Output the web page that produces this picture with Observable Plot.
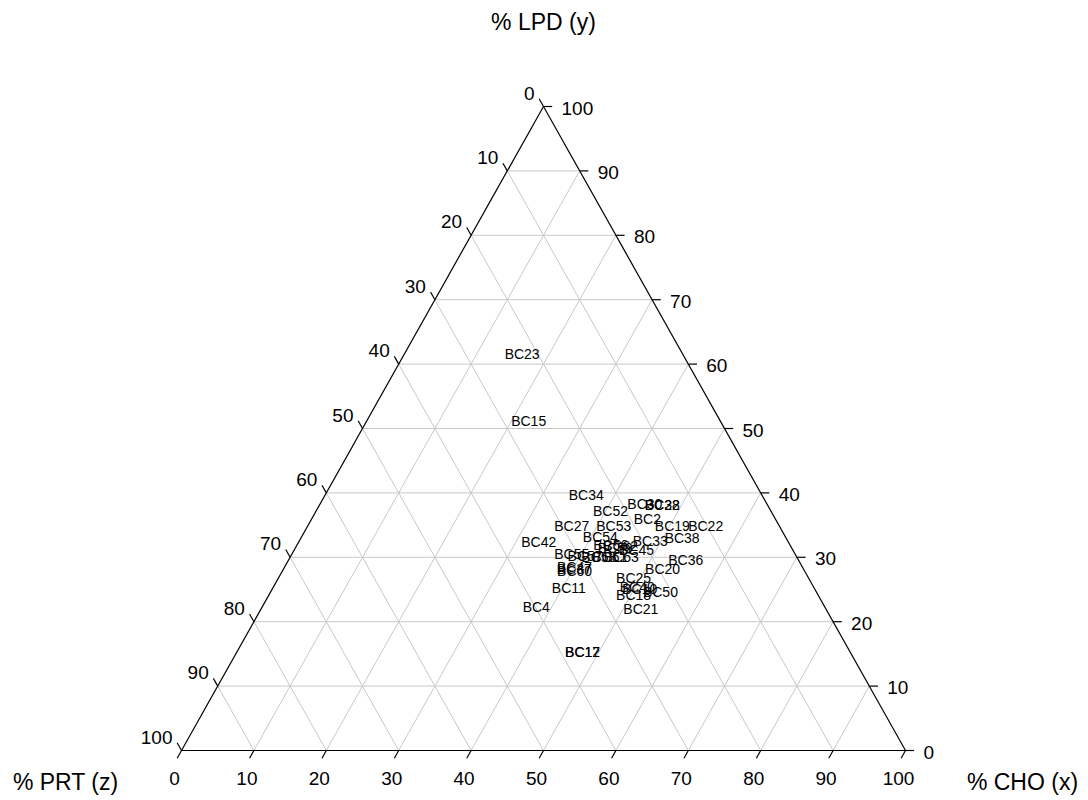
<!DOCTYPE html>
<html>
<head>
<meta charset="utf-8">
<script src="https://cdn.jsdelivr.net/npm/d3@7"></script>
<script src="https://cdn.jsdelivr.net/npm/@observablehq/plot@0.6"></script>
<style>
  html, body { margin: 0; padding: 0; background: #fff; }
  #chart svg { display: block; }
</style>
</head>
<body>
<div id="chart"></div>
<script>
// Sample labels and their ternary composition (% CHO = x, % LPD = y, % PRT = 100 - x - y)
const names = ["BC23","BC15","BC34","BC52","BC30","BC28","BC32","BC2","BC19","BC22","BC27","BC53","BC38","BC54","BC33","BC42","BC45","BC56","BC59","BC62","BC55","BC57","BC58","BC61","BC63","BC47","BC37","BC60","BC36","BC20","BC25","BC11","BC40","BC10","BC18","BC50","BC4","BC21","BC12","BC17"];
const cho   = [16.3, 22.4, 36.1, 40.7, 44.9, 47.4, 47.4, 46.4, 50.4, 55.0, 36.5, 42.3, 52.7, 41.3, 48.5, 33.2, 47.3, 43.4, 44.2, 44.8, 38.7, 40.7, 42.7, 44.2, 45.8, 40.1, 40.2, 40.4, 54.9, 52.4, 49.1, 40.9, 50.3, 50.8, 50.4, 53.9, 37.9, 52.5, 47.8, 47.8];
const lpd   = [61.5, 51.1, 39.6, 37.1, 38.2, 38.0, 38.0, 35.9, 34.8, 34.8, 34.8, 34.8, 32.9, 33.1, 32.5, 32.3, 31.1, 31.8, 31.4, 31.7, 30.4, 30.1, 29.9, 29.9, 29.9, 28.4, 28.1, 27.8, 29.5, 28.1, 26.7, 25.2, 25.3, 25.0, 24.1, 24.5, 22.2, 21.9, 15.2, 15.2];

const tickValues = [0, 10, 20, 30, 40, 50, 60, 70, 80, 90, 100];
const gridValues = [10, 20, 30, 40, 50, 60, 70, 80, 90];
const axisTitles = ["% CHO (x)", "% LPD (y)", "% PRT (z)"];

// ternary (cho, lpd) -> cartesian
const tx = (c, l) => c + l / 2;
const ty = (c, l) => l;

const points = names.map((n, i) => ({name: n, x: tx(cho[i], lpd[i]), y: ty(cho[i], lpd[i])}));

const grid = [];
for (const k of gridValues) {
  grid.push({x1: tx(0, k), y1: k, x2: tx(100 - k, k), y2: k});            // LPD = k
  grid.push({x1: tx(k, 0), y1: 0, x2: tx(k, 100 - k), y2: 100 - k});      // CHO = k
  grid.push({x1: tx(100 - k, 0), y1: 0, x2: tx(0, 100 - k), y2: 100 - k}); // PRT = k
}
const edges = [
  {x1: tx(0, 0), y1: 0, x2: tx(100, 0), y2: 0},
  {x1: tx(100, 0), y1: 0, x2: tx(0, 100), y2: 100},
  {x1: tx(0, 100), y1: 100, x2: tx(0, 0), y2: 0}
];
const t = 1.2;
const ticks = [];
for (const k of tickValues) {
  ticks.push({x1: tx(k, 0), y1: 0, x2: tx(k, -t), y2: -t});
  ticks.push({x1: tx(100 - k, k), y1: k, x2: tx(100 - k, k) + t, y2: k});
  ticks.push({x1: tx(0, 100 - k), y1: 100 - k, x2: tx(0, 100 - k) - t / 2, y2: 100 - k + t});
}
const choLabels = tickValues.map(k => ({x: tx(k, 0), y: 0, text: String(k)}));
const lpdLabels = tickValues.map(k => ({x: tx(100 - k, k), y: k, text: String(k)}));
const prtLabels = tickValues.map(k => ({x: tx(0, 100 - k), y: 100 - k, text: String(k)}));

const font = "Arial, 'Liberation Sans', sans-serif";
const titleOpts = {text: d => d, fontSize: 23, fill: "#000", textAnchor: "middle", lineAnchor: "middle"};

const chart = Plot.plot({
  width: 1088,
  height: 800,
  marginLeft: 181,
  marginRight: 183,
  marginTop: 106,
  marginBottom: 50,
  x: {domain: [0, 100], axis: null},
  y: {domain: [0, 100], axis: null},
  style: {fontFamily: font, background: "#fff", color: "#000"},
  marks: [
    Plot.link(grid, {x1: "x1", y1: "y1", x2: "x2", y2: "y2", stroke: "#c8c8c8", strokeWidth: 1}),
    Plot.link(edges, {x1: "x1", y1: "y1", x2: "x2", y2: "y2", stroke: "#000", strokeWidth: 1.2}),
    Plot.link(ticks, {x1: "x1", y1: "y1", x2: "x2", y2: "y2", stroke: "#000", strokeWidth: 1.2}),
    Plot.text(choLabels, {x: "x", y: "y", text: "text", dx: -7, dy: 28, fontSize: 19, fill: "#000"}),
    Plot.text(lpdLabels, {x: "x", y: "y", text: "text", dx: 18, dy: 2, textAnchor: "start", fontSize: 19, fill: "#000"}),
    Plot.text(prtLabels, {x: "x", y: "y", text: "text", dx: -9, dy: -13, textAnchor: "end", fontSize: 19, fill: "#000"}),
    Plot.text([axisTitles[1]], {...titleOpts, frameAnchor: "top", dy: -84}),
    Plot.text([axisTitles[2]], {...titleOpts, frameAnchor: "bottom-left", dx: -116, dy: 32}),
    Plot.text([axisTitles[0]], {...titleOpts, frameAnchor: "bottom-right", dx: 117, dy: 32}),
    Plot.text(points, {x: "x", y: "y", text: "name", fontSize: 14, fill: "#000"})
  ]
});
document.getElementById("chart").appendChild(chart);
</script>
</body>
</html>
